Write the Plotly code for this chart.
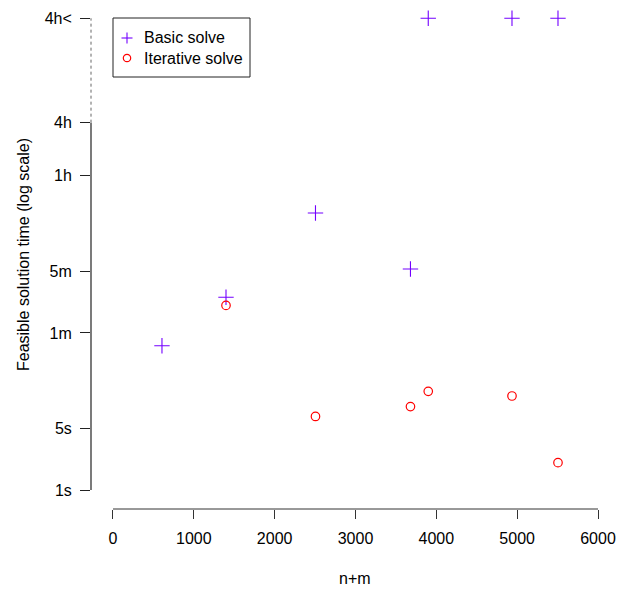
import plotly.graph_objects as go

# ---- data (seconds); TOP marks "more than 4h" (cut-off) ----
TOP = 2.19e5
size_nm = [606, 1398, 2505, 3680, 3900, 4936, 5505]
basic_time = [43, 152, 1368, 318, TOP, TOP, TOP]
iter_nm = [1398, 2505, 3680, 3900, 4936, 5505]
iter_time = [123, 6.8, 8.8, 13.1, 11.6, 2.04]

ytick_vals = [1, 5, 60, 300, 3600, 14400, TOP]
ytick_text = ["1s", "5s", "1m", "5m", "1h", "4h", "4h<"]
xtick_vals = [0, 1000, 2000, 3000, 4000, 5000, 6000]

W, H = 617, 591
L, R, T, B = 91, 0, 0, 82
PW, PH = W - L - R, H - T - B

def px(x):
    return (x - L) / PW

def py(y):
    return (H - B - y) / PH

FONT = "Liberation Sans, Arial, Helvetica, sans-serif"
PURPLE = "#7300FF"
RED = "#FF0000"

fig = go.Figure()
fig.add_trace(go.Scatter(x=size_nm, y=basic_time, mode="markers", name="Basic solve",
                         marker=dict(symbol="cross-thin-open", size=11,
                                     line=dict(color=PURPLE, width=1.1), color=PURPLE),
                         showlegend=False))
fig.add_trace(go.Scatter(x=iter_nm, y=iter_time, mode="markers", name="Iterative solve",
                         marker=dict(symbol="circle-open", size=8.5,
                                     line=dict(color=RED, width=1.2), color=RED),
                         showlegend=False))

shapes = []
# x axis line
shapes.append(dict(type="line", xref="x", yref="paper", x0=0, x1=6000, y0=0, y1=0,
                   line=dict(color="#333333", width=1)))
# y axis: solid part and dotted break part (data values on log axis)
shapes.append(dict(type="line", xref="paper", yref="y", x0=0, x1=0,
                   y0=1, y1=14400, line=dict(color="#222222", width=1.2)))
shapes.append(dict(type="line", xref="paper", yref="y", x0=0, x1=0,
                   y0=14400, y1=TOP, line=dict(color="#666666", width=1, dash="dot")))
# legend box
shapes.append(dict(type="rect", xref="paper", yref="paper",
                   x0=px(113), x1=px(250), y0=py(18), y1=py(77),
                   line=dict(color="#222222", width=1), fillcolor="white"))
# legend plus
shapes.append(dict(type="line", xref="paper", yref="paper", x0=px(121.5), x1=px(132.5),
                   y0=py(38), y1=py(38), line=dict(color=PURPLE, width=1.1)))
shapes.append(dict(type="line", xref="paper", yref="paper", x0=px(127), x1=px(127),
                   y0=py(32.5), y1=py(43.5), line=dict(color=PURPLE, width=1.1)))
# legend circle
shapes.append(dict(type="circle", xref="paper", yref="paper", x0=px(123.3), x1=px(130.7),
                   y0=py(54.3), y1=py(61.7), line=dict(color=RED, width=1.2)))

annotations = [
    dict(text="Basic solve", xref="paper", yref="paper", x=px(142), y=py(38),
         xanchor="left", yanchor="middle", showarrow=False, font=dict(size=16, family=FONT, color="black")),
    dict(text="Iterative solve", xref="paper", yref="paper", x=px(142), y=py(58),
         xanchor="left", yanchor="middle", showarrow=False, font=dict(size=16, family=FONT, color="black")),
    dict(text="n+m", xref="paper", yref="paper", x=px(355), y=py(578),
         xanchor="center", yanchor="middle", showarrow=False, font=dict(size=16, family=FONT, color="black")),
    dict(text="Feasible solution time (log scale)", xref="paper", yref="paper", x=px(23), y=py(255),
         xanchor="center", yanchor="middle", textangle=-90, showarrow=False,
         font=dict(size=16, family=FONT, color="black")),
]

fig.update_layout(
    width=W, height=H,
    margin=dict(l=L, r=R, t=T, b=B, pad=0),
    paper_bgcolor="white", plot_bgcolor="white",
    font=dict(family=FONT, size=16, color="black"),
    showlegend=False,
    shapes=shapes, annotations=annotations,
    xaxis=dict(range=[-272, 6235], tickvals=xtick_vals, ticktext=[str(v) for v in xtick_vals],
               ticks="outside", ticklen=9, tickcolor="#333333", tickwidth=1,
               showgrid=False, zeroline=False, showline=False,
               ticklabelstandoff=6, tickfont=dict(size=16, family=FONT, color="black")),
    yaxis=dict(type="log", range=[-0.215, 5.547], tickvals=ytick_vals, ticktext=ytick_text,
               ticks="outside", ticklen=10, tickcolor="#222222", tickwidth=1,
               showgrid=False, zeroline=False, showline=False,
               ticklabelstandoff=5, tickfont=dict(size=16, family=FONT, color="black")),
)

fig.write_html("out.html")
